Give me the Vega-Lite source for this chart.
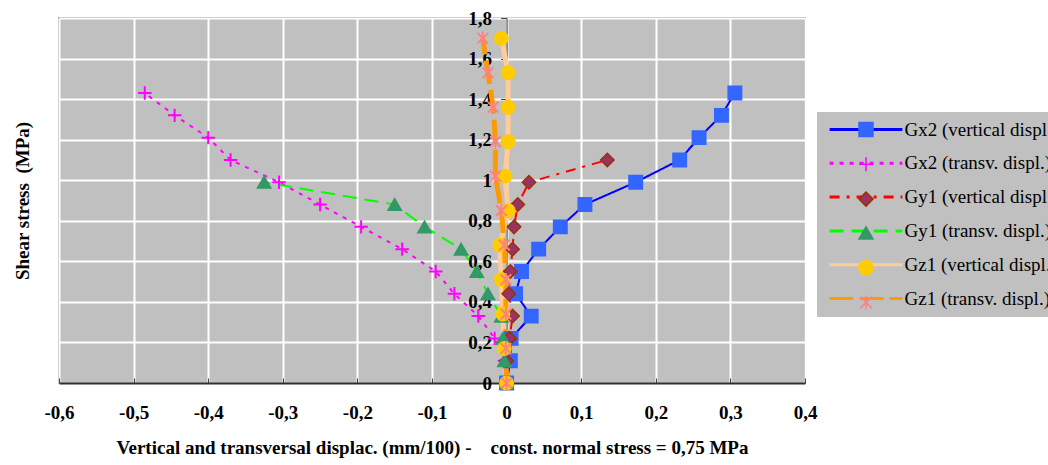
{
  "$schema": "https://vega.github.io/schema/vega-lite/v6.json",
  "width": 746,
  "height": 365,
  "autosize": "none",
  "padding": {"left": 59, "top": 18, "right": 243, "bottom": 82},
  "background": "white",
  "config": {
    "view": {"fill": "#C0C0C0", "stroke": "#808080", "strokeWidth": 1.5},
    "font": "Liberation Serif"
  },
  "data": {
    "values": [
      {"series": "Gx2 (vertical displ.)", "displ": 0, "stress": 0},
      {"series": "Gx2 (vertical displ.)", "displ": 0.005, "stress": 0.11},
      {"series": "Gx2 (vertical displ.)", "displ": 0.006, "stress": 0.22},
      {"series": "Gx2 (vertical displ.)", "displ": 0.033, "stress": 0.33},
      {"series": "Gx2 (vertical displ.)", "displ": 0.012, "stress": 0.44},
      {"series": "Gx2 (vertical displ.)", "displ": 0.020, "stress": 0.55},
      {"series": "Gx2 (vertical displ.)", "displ": 0.043, "stress": 0.66},
      {"series": "Gx2 (vertical displ.)", "displ": 0.072, "stress": 0.77},
      {"series": "Gx2 (vertical displ.)", "displ": 0.105, "stress": 0.88},
      {"series": "Gx2 (vertical displ.)", "displ": 0.173, "stress": 0.99},
      {"series": "Gx2 (vertical displ.)", "displ": 0.232, "stress": 1.10},
      {"series": "Gx2 (vertical displ.)", "displ": 0.258, "stress": 1.21},
      {"series": "Gx2 (vertical displ.)", "displ": 0.288, "stress": 1.32},
      {"series": "Gx2 (vertical displ.)", "displ": 0.306, "stress": 1.43},
      {"series": "Gx2 (transv. displ.)", "displ": 0, "stress": 0},
      {"series": "Gx2 (transv. displ.)", "displ": -0.003, "stress": 0.11},
      {"series": "Gx2 (transv. displ.)", "displ": -0.016, "stress": 0.22},
      {"series": "Gx2 (transv. displ.)", "displ": -0.038, "stress": 0.33},
      {"series": "Gx2 (transv. displ.)", "displ": -0.070, "stress": 0.44},
      {"series": "Gx2 (transv. displ.)", "displ": -0.095, "stress": 0.55},
      {"series": "Gx2 (transv. displ.)", "displ": -0.140, "stress": 0.66},
      {"series": "Gx2 (transv. displ.)", "displ": -0.195, "stress": 0.77},
      {"series": "Gx2 (transv. displ.)", "displ": -0.250, "stress": 0.88},
      {"series": "Gx2 (transv. displ.)", "displ": -0.305, "stress": 0.99},
      {"series": "Gx2 (transv. displ.)", "displ": -0.370, "stress": 1.10},
      {"series": "Gx2 (transv. displ.)", "displ": -0.400, "stress": 1.21},
      {"series": "Gx2 (transv. displ.)", "displ": -0.445, "stress": 1.32},
      {"series": "Gx2 (transv. displ.)", "displ": -0.485, "stress": 1.43},
      {"series": "Gy1 (vertical displ.)", "displ": 0, "stress": 0},
      {"series": "Gy1 (vertical displ.)", "displ": 0.000, "stress": 0.11},
      {"series": "Gy1 (vertical displ.)", "displ": 0.004, "stress": 0.22},
      {"series": "Gy1 (vertical displ.)", "displ": 0.008, "stress": 0.33},
      {"series": "Gy1 (vertical displ.)", "displ": 0.003, "stress": 0.44},
      {"series": "Gy1 (vertical displ.)", "displ": 0.005, "stress": 0.55},
      {"series": "Gy1 (vertical displ.)", "displ": 0.008, "stress": 0.66},
      {"series": "Gy1 (vertical displ.)", "displ": 0.010, "stress": 0.77},
      {"series": "Gy1 (vertical displ.)", "displ": 0.015, "stress": 0.88},
      {"series": "Gy1 (vertical displ.)", "displ": 0.030, "stress": 0.99},
      {"series": "Gy1 (vertical displ.)", "displ": 0.135, "stress": 1.10},
      {"series": "Gy1 (transv. displ.)", "displ": 0, "stress": 0},
      {"series": "Gy1 (transv. displ.)", "displ": -0.003, "stress": 0.11},
      {"series": "Gy1 (transv. displ.)", "displ": -0.005, "stress": 0.22},
      {"series": "Gy1 (transv. displ.)", "displ": -0.007, "stress": 0.33},
      {"series": "Gy1 (transv. displ.)", "displ": -0.025, "stress": 0.44},
      {"series": "Gy1 (transv. displ.)", "displ": -0.040, "stress": 0.55},
      {"series": "Gy1 (transv. displ.)", "displ": -0.061, "stress": 0.66},
      {"series": "Gy1 (transv. displ.)", "displ": -0.110, "stress": 0.77},
      {"series": "Gy1 (transv. displ.)", "displ": -0.150, "stress": 0.88},
      {"series": "Gy1 (transv. displ.)", "displ": -0.325, "stress": 0.99},
      {"series": "Gz1 (vertical displ.)", "displ": 0, "stress": 0},
      {"series": "Gz1 (vertical displ.)", "displ": -0.003, "stress": 0.17},
      {"series": "Gz1 (vertical displ.)", "displ": -0.005, "stress": 0.34},
      {"series": "Gz1 (vertical displ.)", "displ": -0.007, "stress": 0.51},
      {"series": "Gz1 (vertical displ.)", "displ": -0.009, "stress": 0.68},
      {"series": "Gz1 (vertical displ.)", "displ": 0.002, "stress": 0.85},
      {"series": "Gz1 (vertical displ.)", "displ": -0.002, "stress": 1.02},
      {"series": "Gz1 (vertical displ.)", "displ": 0.002, "stress": 1.19},
      {"series": "Gz1 (vertical displ.)", "displ": 0.002, "stress": 1.36},
      {"series": "Gz1 (vertical displ.)", "displ": 0.002, "stress": 1.53},
      {"series": "Gz1 (vertical displ.)", "displ": -0.007, "stress": 1.70},
      {"series": "Gz1 (transv. displ.)", "displ": 0, "stress": 0},
      {"series": "Gz1 (transv. displ.)", "displ": -0.001, "stress": 0.17},
      {"series": "Gz1 (transv. displ.)", "displ": -0.001, "stress": 0.34},
      {"series": "Gz1 (transv. displ.)", "displ": -0.001, "stress": 0.51},
      {"series": "Gz1 (transv. displ.)", "displ": -0.003, "stress": 0.68},
      {"series": "Gz1 (transv. displ.)", "displ": -0.007, "stress": 0.85},
      {"series": "Gz1 (transv. displ.)", "displ": -0.015, "stress": 1.02},
      {"series": "Gz1 (transv. displ.)", "displ": -0.015, "stress": 1.19},
      {"series": "Gz1 (transv. displ.)", "displ": -0.018, "stress": 1.36},
      {"series": "Gz1 (transv. displ.)", "displ": -0.025, "stress": 1.53},
      {"series": "Gz1 (transv. displ.)", "displ": -0.032, "stress": 1.70}
    ]
  },
  "encoding": {
    "x": {
      "field": "displ",
      "type": "quantitative",
      "scale": {"domain": [-0.6, 0.4], "nice": false, "zero": false},
      "axis": {
        "values": [-0.6, -0.5, -0.4, -0.3, -0.2, -0.1, 0, 0.1, 0.2, 0.3, 0.4],
        "labelExpr": "replace(toString(datum.value), '.', ',')",
        "title": "Vertical and transversal displac. (mm/100) -\u00a0\u00a0\u00a0\u00a0const. normal stress = 0,75 MPa",
        "grid": true,
        "gridColor": "white",
        "gridWidth": 2,
        "gridOpacity": 1,
        "domainColor": "#303030",
        "domainWidth": 2,
        "ticks": true,
        "tickColor": "#404040",
        "tickSize": -5,
        "tickWidth": 1,
        "labelPadding": 25,
        "labelFont": "Liberation Serif",
        "labelFontWeight": "bold",
        "labelFontSize": 19,
        "labelColor": "black",
        "labelFlush": false,
        "labelOverlap": false,
        "titleFont": "Liberation Serif",
        "titleFontWeight": "bold",
        "titleFontSize": 19,
        "titleColor": "black",
        "titlePadding": 16
      }
    },
    "y": {
      "field": "stress",
      "type": "quantitative",
      "scale": {"domain": [0, 1.8], "nice": false},
      "axis": {
        "values": [0, 0.2, 0.4, 0.6, 0.8, 1, 1.2, 1.4, 1.6, 1.8],
        "labelExpr": "replace(toString(datum.value), '.', ',')",
        "offset": -447.6,
        "zindex": 0,
        "title": "Shear stress\u00a0\u00a0(MPa)",
        "titleX": -484.6,
        "titleY": 182.5,
        "titleAngle": -90,
        "titleAlign": "center",
        "titleBaseline": "middle",
        "grid": true,
        "gridColor": "white",
        "gridWidth": 2,
        "gridOpacity": 1,
        "domainColor": "#404040",
        "domainWidth": 1,
        "tickColor": "#404040",
        "tickSize": 6,
        "labelPadding": 9,
        "labelFont": "Liberation Serif",
        "labelFontWeight": "bold",
        "labelFontSize": 19,
        "labelColor": "black",
        "labelFlush": false,
        "labelOverlap": false,
        "titleFont": "Liberation Serif",
        "titleFontWeight": "bold",
        "titleFontSize": 19,
        "titleColor": "black"
      }
    }
  },
  "layer": [
    {
      "mark": {"type": "line"},
      "encoding": {
        "order": {"field": "stress", "type": "quantitative"},
        "color": {
          "field": "series",
          "type": "nominal",
          "sort": null,
          "scale": {"range": ["#0000FF", "#FF00FF", "#FF0000", "#00FF00", "#FFCC99", "#FF9900"]},
          "legend": {
            "title": null,
            "orient": "none",
            "legendX": 758,
            "legendY": 94,
            "symbolType": "M-5.2,0H5.2",
            "symbolSize": 196,
            "symbolOffset": 31.5,
            "symbolStrokeWidth": 3,
            "labelOffset": 29,
            "labelFont": "Liberation Serif",
            "labelFontSize": 19,
            "labelColor": "black",
            "labelLimit": 400,
            "rowPadding": 13.8,
            "padding": 8,
            "fillColor": "#C0C0C0"
          }
        },
        "strokeDash": {
          "field": "series",
          "type": "nominal",
          "sort": null,
          "scale": {"range": [[1, 0], [4, 6], [10, 7, 3, 7], [14, 8], [1, 0], [24, 6]]}
        },
        "strokeWidth": {"condition": {"test": "indexof(datum.series, 'Gz1') == 0", "value": 5}, "value": 2}
      }
    },
    {
      "mark": {"type": "point", "filled": true, "size": 180, "opacity": 1},
      "encoding": {
        "fill": {
          "field": "series",
          "type": "nominal",
          "scale": {
            "domain": ["Gx2 (vertical displ.)", "Gx2 (transv. displ.)", "Gy1 (vertical displ.)", "Gy1 (transv. displ.)", "Gz1 (vertical displ.)", "Gz1 (transv. displ.)"],
            "range": ["#3366FF", "transparent", "#993366", "#339966", "#FFCC00", "transparent"]
          },
          "legend": {
            "title": null,
            "orient": "none",
            "legendX": 758,
            "legendY": 94,
            "symbolSize": 196,
            "symbolOffset": 31.5,
            "symbolStrokeWidth": 1.5,
            "labelOffset": 29,
            "labelFont": "Liberation Serif",
            "labelFontSize": 19,
            "labelColor": "transparent",
            "labelExpr": "''",
            "labelLimit": 400,
            "rowPadding": 13.8,
            "padding": 8
          }
        },
        "stroke": {
          "field": "series",
          "type": "nominal",
          "scale": {
            "domain": ["Gx2 (vertical displ.)", "Gx2 (transv. displ.)", "Gy1 (vertical displ.)", "Gy1 (transv. displ.)", "Gz1 (vertical displ.)", "Gz1 (transv. displ.)"],
            "range": ["#3366FF", "#FF00FF", "#993300", "#339966", "#FFCC00", "#FF8080"]
          }
        },
        "shape": {
          "field": "series",
          "type": "nominal",
          "scale": {
            "domain": ["Gx2 (vertical displ.)", "Gx2 (transv. displ.)", "Gy1 (vertical displ.)", "Gy1 (transv. displ.)", "Gz1 (vertical displ.)", "Gz1 (transv. displ.)"],
            "range": ["square", "M-1,0H1M0,-1V1", "diamond", "triangle-up", "circle", "M0,-1V1M-0.8,-0.8L0.8,0.8M-0.8,0.8L0.8,-0.8"]
          }
        },
        "strokeWidth": {"condition": {"test": "datum.series == 'Gx2 (transv. displ.)' || datum.series == 'Gz1 (transv. displ.)'", "value": 2}, "value": 1.5}
      }
    }
  ]
}
